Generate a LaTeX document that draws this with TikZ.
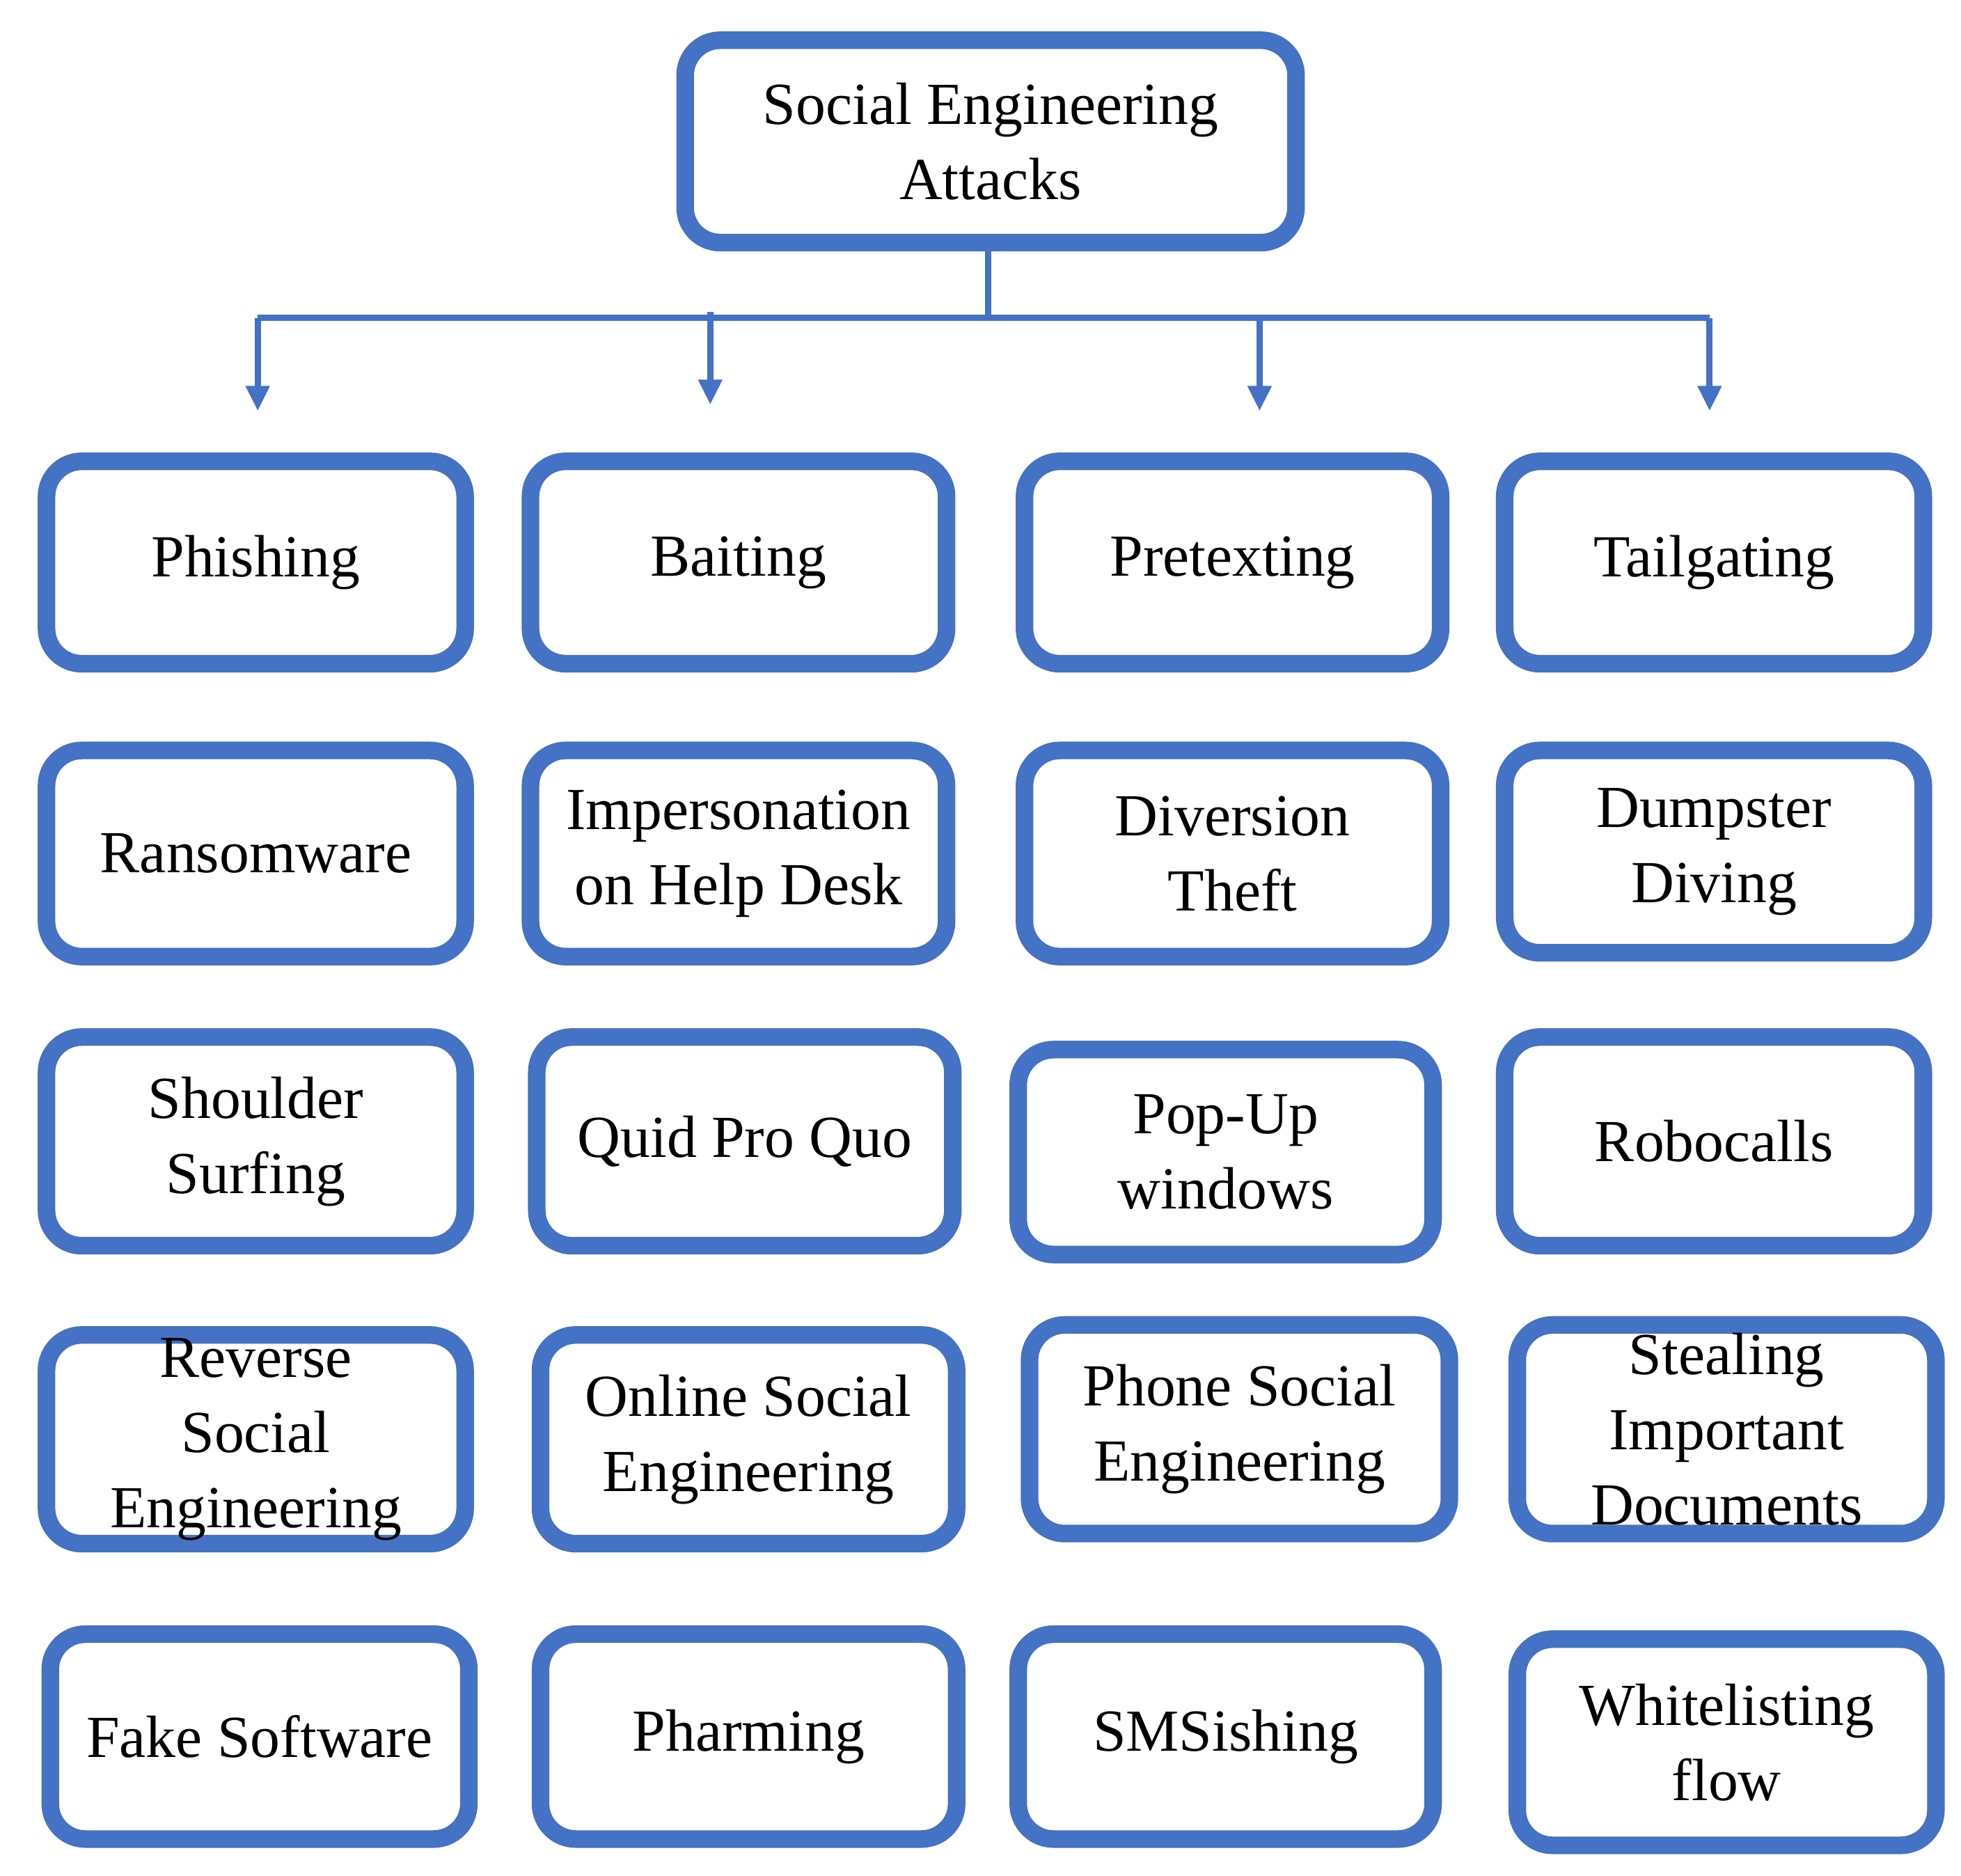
\documentclass[tikz,border=0pt]{standalone}
\usepackage{fontspec}
\setmainfont{Liberation Serif}
\usetikzlibrary{arrows.meta}
\definecolor{boxblue}{RGB}{68,114,196}
\begin{document}
\begin{tikzpicture}[
  bx/.style={draw=boxblue, line width=0.14cm, rounded corners=0.28cm, align=center, inner sep=0pt,
    font=\fontsize{13.5}{17}\selectfont},
  arr/.style={draw=boxblue, line width=0.05cm, -{Triangle[width=0.18cm,length=0.2cm]}}
]
\useasboundingbox (0,0) rectangle (15.6,-14.92);
\newcommand{\bxat}[6]{% name, x1,x2,y1,y2,text
  \node[bx, minimum width={(#3-#2)/100*1cm-0.14cm}, minimum height={(#5-#4)/100*1cm-0.14cm}]
    (#1) at ({(#2+#3)/200},{-(#4+#5)/200}) {#6};}
\bxat{root}{538}{1038}{25}{200}{Social Engineering\\Attacks}
\bxat{a1}{30}{377}{360}{535}{Phishing}
\bxat{b1}{415}{760}{360}{535}{Baiting}
\bxat{c1}{808}{1153}{360}{535}{Pretexting}
\bxat{d1}{1190}{1537}{360}{535}{Tailgating}
\bxat{a2}{30}{377}{590}{768}{Ransomware}
\bxat{b2}{415}{760}{590}{768}{Impersonation\\on Help Desk}
\bxat{c2}{808}{1153}{590}{768}{Diversion\\Theft}
\bxat{d2}{1190}{1537}{590}{765}{Dumpster\\Diving}
\bxat{a3}{30}{377}{818}{998}{Shoulder\\Surfing}
\bxat{b3}{420}{765}{818}{998}{Quid Pro Quo}
\bxat{c3}{803}{1147}{828}{1005}{Pop-Up\\windows}
\bxat{d3}{1190}{1537}{818}{998}{Robocalls}
\bxat{a4}{30}{377}{1055}{1235}{Reverse\\Social\\Engineering}
\bxat{b4}{423}{768}{1055}{1235}{Online Social\\Engineering}
\bxat{c4}{812}{1160}{1047}{1227}{Phone Social\\Engineering}
\bxat{d4}{1200}{1547}{1047}{1227}{Stealing\\Important\\Documents}
\bxat{a5}{33}{380}{1293}{1470}{Fake Software}
\bxat{b5}{423}{768}{1293}{1470}{Pharming}
\bxat{c5}{803}{1147}{1293}{1470}{SMSishing}
\bxat{d5}{1200}{1547}{1297}{1475}{Whitelisting\\flow}
\coordinate (j) at (7.86,-2.53);
\coordinate (hl) at (2.05,-2.53);
\coordinate (hr) at (13.6,-2.53);
\draw[boxblue, line width=0.05cm] (root.south -| j) -- (j);
\draw[boxblue, line width=0.05cm] (hl) -- (hr);
\draw[arr] (hl) -- (2.05,-3.27);
\draw[arr] (5.65,-2.48) -- (5.65,-3.22);
\draw[arr] (10.02,-2.53) -- (10.02,-3.27);
\draw[arr] (hr) -- (13.6,-3.27);
\end{tikzpicture}
\end{document}
